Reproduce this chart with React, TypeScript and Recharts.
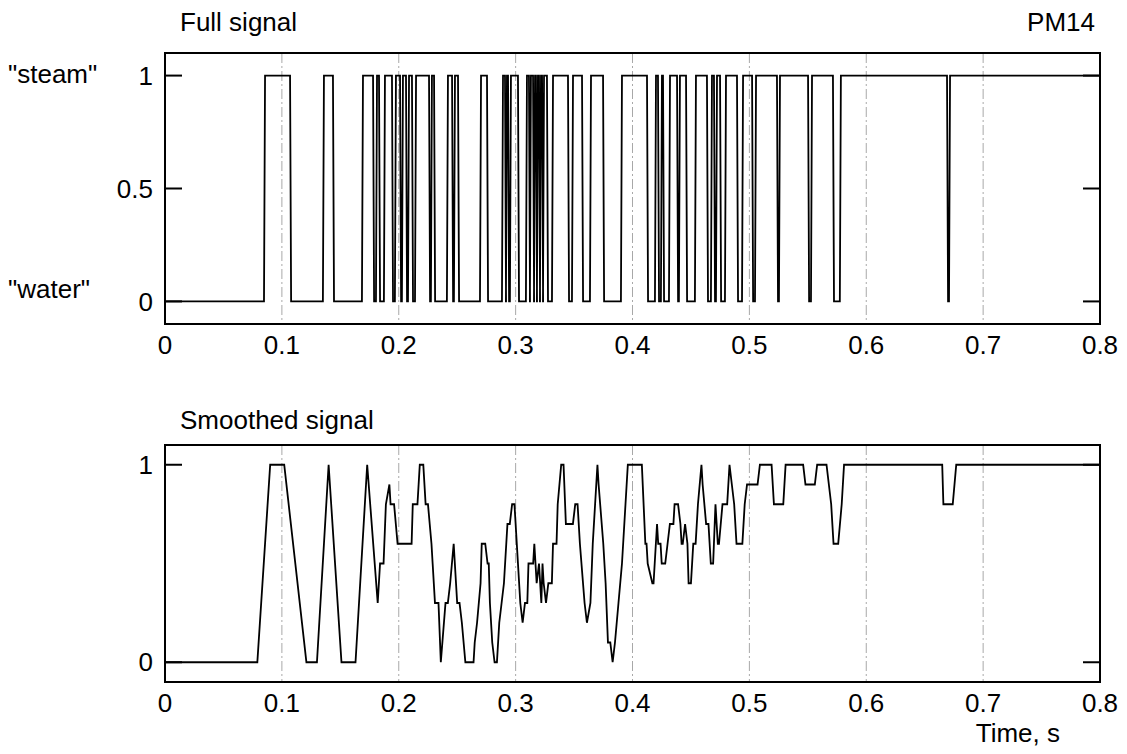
import { CartesianGrid, Line, LineChart, ReferenceArea, XAxis, YAxis } from "recharts";

const timeTicks = [0, 0.1, 0.2, 0.3, 0.4, 0.5, 0.6, 0.7, 0.8];
const fullTicks = [0, 0.5, 1];
const smoothTicks = [0, 1];

// full signal: times (s) where the probe reads "steam" (1) and where it drops back to "water" (0)
const steamOn = [
  0.0856, 0.136, 0.1694, 0.1814, 0.1882, 0.1976, 0.2036, 0.2088, 0.2148, 0.2284,
  0.2421, 0.2481, 0.2704, 0.2892, 0.2926, 0.296, 0.3097, 0.3131, 0.3166, 0.3191,
  0.3217, 0.3243, 0.332, 0.3491, 0.3645, 0.391, 0.4201, 0.4252, 0.4321, 0.4406,
  0.4543, 0.468, 0.4723, 0.48, 0.4946, 0.5057, 0.5262, 0.5536, 0.5783, 0.6717,
];
const steamOff = [
  0.107, 0.1437, 0.178, 0.1831, 0.1942, 0.2011, 0.2062, 0.2113, 0.2259, 0.2302,
  0.2456, 0.2507, 0.2755, 0.2909, 0.2935, 0.302, 0.3114, 0.3149, 0.3174, 0.32,
  0.3226, 0.3268, 0.3448, 0.3568, 0.3748, 0.4124, 0.4218, 0.4261, 0.4381, 0.4458,
  0.4637, 0.4697, 0.4749, 0.4894, 0.5023, 0.5236, 0.5502, 0.5715, 0.6691, 0.8,
];

// smoothed signal
const smoothTime = [
  0, 0.079, 0.09, 0.102, 0.121, 0.13, 0.14, 0.151, 0.163, 0.173,
  0.182, 0.184, 0.187, 0.189, 0.192, 0.193, 0.196, 0.199, 0.211, 0.212,
  0.216, 0.218, 0.221, 0.223, 0.225, 0.228, 0.229, 0.231, 0.234, 0.236,
  0.24, 0.242, 0.244, 0.247, 0.25, 0.252, 0.254, 0.257, 0.264, 0.265,
  0.267, 0.27, 0.271, 0.274, 0.276, 0.277, 0.278, 0.28, 0.282, 0.284,
  0.286, 0.288, 0.29, 0.293, 0.295, 0.297, 0.299, 0.3, 0.304, 0.306,
  0.308, 0.31, 0.311, 0.315, 0.316, 0.318, 0.32, 0.322, 0.323, 0.324,
  0.326, 0.328, 0.331, 0.332, 0.335, 0.336, 0.339, 0.341, 0.343, 0.349,
  0.351, 0.353, 0.355, 0.359, 0.361, 0.364, 0.366, 0.368, 0.37, 0.371,
  0.375, 0.377, 0.379, 0.381, 0.383, 0.385, 0.388, 0.391, 0.394, 0.396,
  0.408, 0.411, 0.412, 0.413, 0.417, 0.418, 0.419, 0.421, 0.422, 0.424,
  0.425, 0.428, 0.43, 0.432, 0.435, 0.436, 0.439, 0.441, 0.442, 0.443,
  0.445, 0.447, 0.448, 0.45, 0.452, 0.454, 0.456, 0.459, 0.46, 0.463,
  0.465, 0.467, 0.469, 0.471, 0.473, 0.474, 0.477, 0.481, 0.483, 0.485,
  0.487, 0.489, 0.494, 0.496, 0.498, 0.507, 0.509, 0.519, 0.521, 0.529,
  0.531, 0.546, 0.548, 0.556, 0.558, 0.566, 0.57, 0.572, 0.576, 0.579,
  0.581, 0.665, 0.666, 0.674, 0.677, 0.8,
];
const smoothLevel = [
  0, 0, 1, 1, 0, 0, 1, 0, 0, 1,
  0.3, 0.5, 0.5, 0.8, 0.9, 0.8, 0.8, 0.6, 0.6, 0.8,
  0.8, 1, 1, 0.8, 0.8, 0.6, 0.5, 0.3, 0.3, 0,
  0.3, 0.3, 0.4, 0.6, 0.3, 0.3, 0.2, 0, 0, 0.1,
  0.2, 0.4, 0.6, 0.6, 0.5, 0.5, 0.3, 0.1, 0, 0,
  0.2, 0.3, 0.4, 0.7, 0.7, 0.8, 0.8, 0.7, 0.3, 0.2,
  0.3, 0.3, 0.5, 0.5, 0.6, 0.4, 0.5, 0.3, 0.5, 0.4,
  0.3, 0.4, 0.4, 0.6, 0.6, 0.8, 1, 1, 0.7, 0.7,
  0.8, 0.8, 0.6, 0.3, 0.2, 0.3, 0.6, 0.8, 1, 0.9,
  0.6, 0.4, 0.1, 0.1, 0, 0.1, 0.3, 0.5, 0.8, 1,
  1, 0.6, 0.6, 0.5, 0.4, 0.4, 0.5, 0.7, 0.6, 0.6,
  0.5, 0.5, 0.6, 0.7, 0.7, 0.8, 0.8, 0.7, 0.6, 0.6,
  0.7, 0.6, 0.4, 0.4, 0.6, 0.6, 0.8, 1, 0.9, 0.7,
  0.7, 0.5, 0.5, 0.8, 0.6, 0.6, 0.8, 0.8, 1, 0.9,
  0.8, 0.6, 0.6, 0.8, 0.9, 0.9, 1, 1, 0.8, 0.8,
  1, 1, 0.9, 0.9, 1, 1, 0.8, 0.6, 0.6, 0.8,
  1, 1, 0.8, 0.8, 1, 1,
];

const FONT = "'Liberation Sans', Arial, Helvetica, sans-serif";
const PLOT_LEFT = 165;
const PLOT_RIGHT = 1100;
const PLOT_W = PLOT_RIGHT - PLOT_LEFT;
const Y_AXIS_W = 60;
const X_AXIS_H = 40;
const TICK_GAP = 12;
const RAMP = 0.0009; // one sample for the switch between levels

const fullData: { t: number; v: number }[] = [{ t: 0, v: 0 }];
steamOn.forEach((on, i) => {
  fullData.push({ t: on - RAMP, v: 0 }, { t: on, v: 1 }, { t: steamOff[i], v: 1 });
  if (steamOff[i] < 0.8) fullData.push({ t: steamOff[i] + RAMP, v: 0 });
});

const smoothData = smoothTime.map((t, i) => ({ t, v: smoothLevel[i] }));

function LevelTick(props: any) {
  const { x, y, payload } = props;
  const axisX = x + TICK_GAP;
  return (
    <g>
      <text x={x} y={y} dy="0.35em" textAnchor="end" fontSize={26} fontFamily={FONT} fill="#000">
        {String(payload.value)}
      </text>
      <line x1={axisX} x2={axisX + 17} y1={y} y2={y} stroke="#000" strokeWidth={2} />
      <line x1={axisX + PLOT_W - 17} x2={axisX + PLOT_W} y1={y} y2={y} stroke="#000" strokeWidth={2} />
    </g>
  );
}

function Panel({
  data,
  yTicks,
  height,
  top,
  plotHeight,
}: {
  data: { t: number; v: number }[];
  yTicks: number[];
  height: number;
  top: number;
  plotHeight: number;
}) {
  return (
    <LineChart
      width={1127}
      height={height}
      data={data}
      margin={{
        top,
        right: 1127 - PLOT_RIGHT,
        left: PLOT_LEFT - Y_AXIS_W,
        bottom: height - top - plotHeight - X_AXIS_H,
      }}
    >
      <CartesianGrid horizontal={false} stroke="#a8a8a8" strokeDasharray="10 3 2 3" />
      <XAxis
        dataKey="t"
        type="number"
        domain={[0, 0.8]}
        ticks={timeTicks}
        interval={0}
        height={X_AXIS_H}
        axisLine={false}
        tickLine={false}
        tickSize={0}
        tickMargin={TICK_GAP}
        tick={{ fontSize: 26, fill: "#000", fontFamily: FONT }}
      />
      <YAxis
        type="number"
        domain={[-0.1, 1.1]}
        ticks={yTicks}
        interval={0}
        width={Y_AXIS_W}
        axisLine={false}
        tickLine={false}
        tickSize={0}
        tickMargin={TICK_GAP}
        tick={LevelTick}
      />
      <Line type="linear" dataKey="v" stroke="#000" strokeWidth={1.8} dot={false} isAnimationActive={false} />
      <ReferenceArea x1={0} x2={0.8} y1={-0.1} y2={1.1} fill="none" fillOpacity={0} stroke="#000" strokeWidth={2} />
    </LineChart>
  );
}

export default function App() {
  const text = { fontFamily: FONT, fill: "#000" };
  return (
    <div style={{ position: "absolute", left: 0, top: 0, width: 1127, height: 754, background: "#fff" }}>
      <div style={{ position: "absolute", left: 0, top: 0 }}>
        <Panel data={fullData} yTicks={fullTicks} height={400} top={53} plotHeight={271} />
      </div>
      <div style={{ position: "absolute", left: 0, top: 400 }}>
        <Panel data={smoothData} yTicks={smoothTicks} height={354} top={45} plotHeight={237} />
      </div>
      <svg width={1127} height={754} style={{ position: "absolute", left: 0, top: 0, pointerEvents: "none" }}>
        <text x={180} y={31} fontSize={26} {...text}>Full signal</text>
        <text x={1095} y={31} fontSize={26} textAnchor="end" {...text}>PM14</text>
        <text x={8} y={83} fontSize={26} {...text}>"steam"</text>
        <text x={8} y={298} fontSize={26} {...text}>"water"</text>
        <text x={180} y={429} fontSize={26} {...text}>Smoothed signal</text>
        <text x={1060} y={742} fontSize={26} textAnchor="end" {...text}>Time, s</text>
      </svg>
    </div>
  );
}
